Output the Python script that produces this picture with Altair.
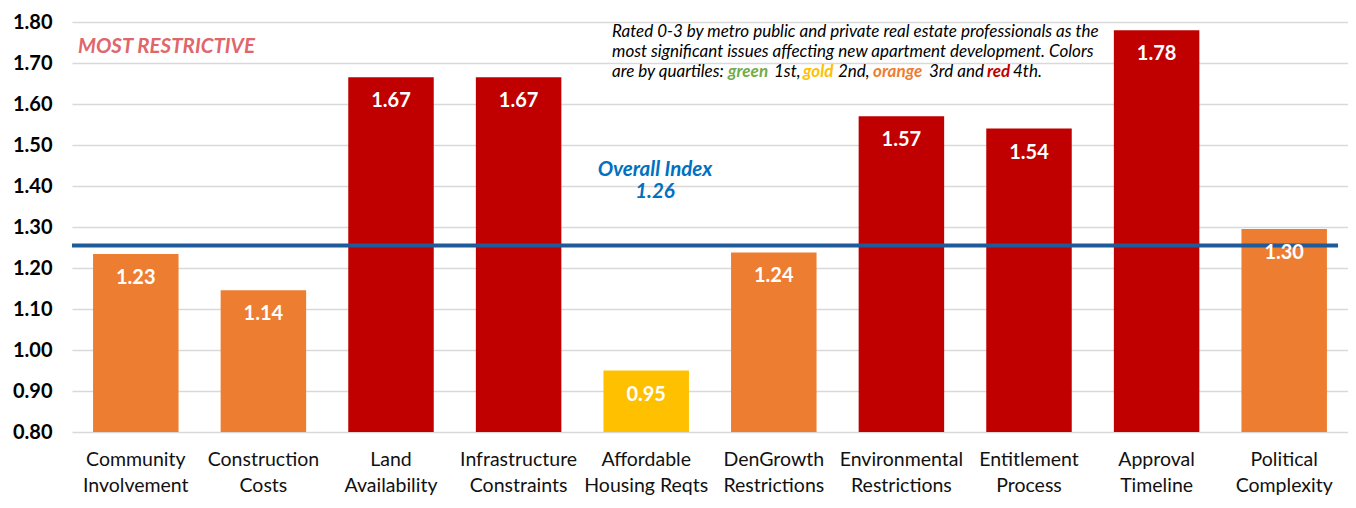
import altair as alt
import pandas as pd

categories = ["Community|Involvement", "Construction|Costs", "Land|Availability",
              "Infrastructure|Constraints", "Affordable|Housing Reqts", "DenGrowth|Restrictions",
              "Environmental|Restrictions", "Entitlement|Process", "Approval|Timeline",
              "Political|Complexity"]
values = [1.234, 1.146, 1.665, 1.665, 0.95, 1.238, 1.57, 1.54, 1.78, 1.295]
labels = ["1.23", "1.14", "1.67", "1.67", "0.95", "1.24", "1.57", "1.54", "1.78", "1.30"]
bar_colors = ["#ED7D31", "#ED7D31", "#C00000", "#C00000", "#FFC000",
              "#ED7D31", "#C00000", "#C00000", "#C00000", "#ED7D31"]
y_ticks = [0.8, 0.9, 1.0, 1.1, 1.2, 1.3, 1.4, 1.5, 1.6, 1.7, 1.8]
overall_index = 1.255
overall_label = "1.26"
y_min, y_max = 0.8, 1.8

FONT = "Lato"
W, H = 1276, 410

df = pd.DataFrame({"cat": categories, "value": values, "label": labels, "color": bar_colors})

x_enc = alt.X("cat:N", sort=None, title=None,
              scale=alt.Scale(paddingInner=0.33, paddingOuter=0.165),
              axis=alt.Axis(labelExpr="split(datum.label, '|')", labelAngle=0,
                            labelFont=FONT, labelFontSize=19.5, labelColor="#111111",
                            labelPadding=18, labelLineHeight=26, domain=False, ticks=False,
                            grid=False))
y_scale = alt.Scale(domain=[y_min, y_max], zero=False, nice=False)

bars = alt.Chart(df).mark_bar().encode(
    x=x_enc,
    y=alt.Y("value:Q", scale=y_scale, title=None,
            axis=alt.Axis(values=y_ticks, format=".2f", grid=True, gridColor="#D9D9D9",
                          gridWidth=1.5, domain=False, ticks=False, labelFont=FONT,
                          labelFontSize=20, labelFontWeight="bold", labelColor="#000000",
                          labelPadding=20)),
    y2=alt.datum(y_min),
    color=alt.Color("color:N", scale=None),
)

bar_text = alt.Chart(df).mark_text(dy=24, color="white", font=FONT, fontSize=20,
                                   fontWeight="bold", baseline="middle").encode(
    x=alt.X("cat:N", sort=None),
    y=alt.Y("value:Q", scale=y_scale),
    text="label:N",
)

line_df = pd.DataFrame({"v": [overall_index]})
overall = alt.Chart(line_df).mark_rule(color="#1F5A9A", strokeWidth=4).encode(
    y=alt.Y("v:Q", scale=y_scale),
    x=alt.value(0),
    x2=alt.value(1266),
)

def txt(text, x, y, color="#000000", size=17, weight="normal", style="italic", align="left"):
    return alt.Chart(pd.DataFrame({"t": [text]})).mark_text(
        font=FONT, fontSize=size, fontWeight=weight, fontStyle=style, color=color,
        align=align, baseline="middle").encode(
        x=alt.value(x), y=alt.value(y), text="t:N")

annots = [
    txt("MOST RESTRICTIVE", 6, 25, color="#E0666B", size=20.5, weight="bold"),
    txt("Overall Index", 583, 148, color="#0070C0", size=20.5, weight="bold", align="center"),
    txt(overall_label, 583, 170, color="#0070C0", size=20.5, weight="bold", align="center"),
    txt("Rated 0-3 by metro public and private real estate professionals as the", 540, 10),
    txt("most significant issues affecting new apartment development.  Colors", 540, 30),
    txt("are by quartiles:", 540, 50),
    txt("green", 656, 50, color="#70AD47", weight="bold"),
    txt("1st,", 702, 50),
    txt("gold", 731, 50, color="#FFC000", weight="bold"),
    txt("2nd,", 766, 50),
    txt("orange", 801, 50, color="#ED7D31", weight="bold"),
    txt("3rd and", 857, 50),
    txt("red", 915, 50, color="#C00000", weight="bold"),
    txt("4th.", 941, 50),
]

chart = alt.layer(bars, overall, bar_text, *annots).properties(
    width=W, height=H,
    autosize=alt.AutoSizeParams(type="none"),
    padding={"left": 64, "top": 14, "right": 0, "bottom": 68},
).configure_view(stroke=None)

chart.save("out.html", embed_options={"renderer": "svg", "actions": False})
